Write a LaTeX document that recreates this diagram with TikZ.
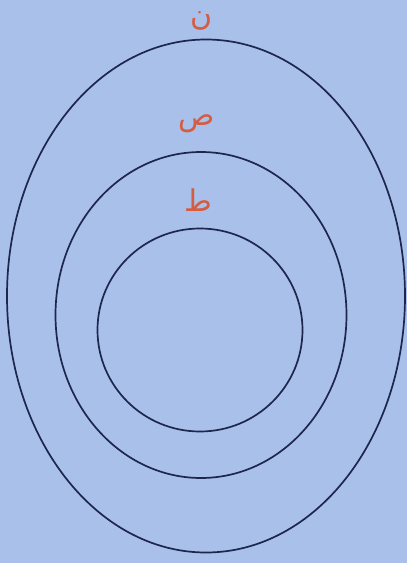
\documentclass[tikz,border=0pt]{standalone}
\usepackage{fontspec}
\newfontfamily\arabicfont[Script=Arabic]{DejaVu Sans}
\TeXXeTstate=1
\usepackage{tikz}
\usetikzlibrary{shapes.geometric,positioning}

\definecolor{paper}{RGB}{168,192,234}
\definecolor{ink}{RGB}{30,38,78}
\definecolor{letter}{RGB}{214,92,64}

\begin{document}
\begin{tikzpicture}[
            x=1pt, y=-1pt,
            ring/.style={ellipse, draw=ink, line width=1.7pt, inner sep=0pt},
            tag/.style={text=letter, font=\arabicfont\fontsize{30}{32}\selectfont, inner sep=0pt}
        ]
            \fill[paper] (0,0) rectangle (407,563);
            \useasboundingbox (0,0) rectangle (407,563);

            \node[ring, minimum width=398pt, minimum height=513pt] (n) at (206,296) {};
            \node[ring, minimum width=291pt, minimum height=326pt] (s) at (201,315) {};
            \node[ring, minimum width=205pt, minimum height=203pt] (t) at (200,330) {};

            \node[tag] (nlbl) at (202,21) {\beginR ن\endR};
            \node[tag] (slbl) at (197,124) {\beginR ص\endR};
            \node[tag] (tlbl) at (198,200) {\beginR ط\endR};
        \end{tikzpicture}
\end{document}
